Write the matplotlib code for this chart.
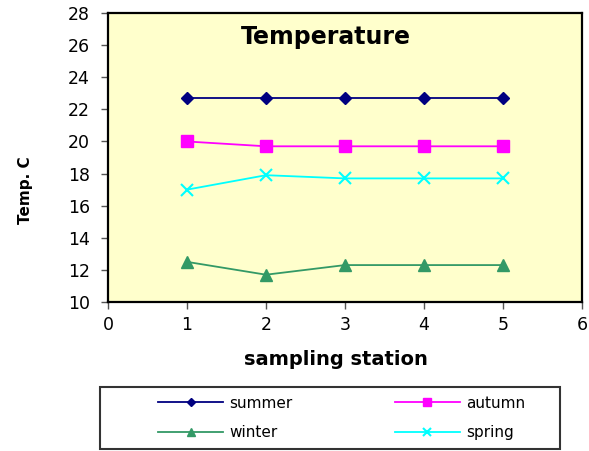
import matplotlib.pyplot as plt
from matplotlib.patches import Rectangle

plt.rcParams['font.family'] = ['DejaVu Sans']

# Data
stations = [1, 2, 3, 4, 5]
summer = [22.7, 22.7, 22.7, 22.7, 22.7]
autumn = [20.0, 19.7, 19.7, 19.7, 19.7]
winter = [12.5, 11.7, 12.3, 12.3, 12.3]
spring = [17.0, 17.9, 17.7, 17.7, 17.7]

fig = plt.figure(figsize=(5.89, 4.51), dpi=100)
ax = fig.add_axes([0.1834, 0.3304, 0.8046, 0.6406])
ax.set_facecolor('#FFFFCC')

l_sum, = ax.plot(stations, summer, color='#000080', marker='D', markersize=6, lw=1.3, label='summer')
l_aut, = ax.plot(stations, autumn, color='#FF00FF', marker='s', markersize=9, lw=1.3, label='autumn')
l_win, = ax.plot(stations, winter, color='#339966', marker='^', markersize=9, lw=1.3, label='winter')
l_spr, = ax.plot(stations, spring, color='#00FFFF', marker='x', markersize=9, mew=1.5, lw=1.3, label='spring')

ax.set_xlim(0, 6)
ax.set_ylim(10, 28)
ax.set_xticks(range(0, 7))
ax.set_yticks(range(10, 29, 2))
ax.tick_params(direction='out', labelsize=12.5, length=5, width=1, color='#555555')
ax.tick_params(axis='y', pad=8)
ax.tick_params(axis='x', pad=5)
for s in ax.spines.values():
    s.set_linewidth(1.6)

ax.text(0.46, 0.917, 'Temperature', transform=ax.transAxes, ha='center', va='center',
        fontsize=17, fontweight='bold')
ax.set_xlabel('sampling station', fontsize=14, fontweight='bold')
ax.xaxis.set_label_coords(0.481, -0.165)
ax.set_ylabel('Temp. C', fontsize=11, fontweight='bold')
ax.yaxis.set_label_coords(-0.158, 0.3875)

# legend box below the plot
fig.patches.append(Rectangle((100 / 589, 1 - 449 / 451), 460 / 589, 62 / 451,
                             transform=fig.transFigure, fill=False, edgecolor='#333333', lw=1.5))
fig.legend([l_sum, l_win, l_aut, l_spr], ['summer', 'winter', 'autumn', 'spring'],
           ncol=2, loc='center', bbox_to_anchor=(0.58, 0.0732), frameon=False,
           fontsize=11, handlelength=4.25, handletextpad=0.4, columnspacing=6.7,
           labelspacing=0.95, markerscale=0.65)

fig.savefig('out.png', dpi=100)
